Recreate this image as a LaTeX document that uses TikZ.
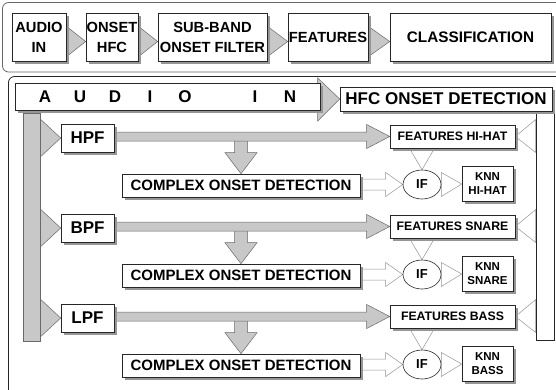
\documentclass[tikz,border=0pt]{standalone}
\usepackage{fontspec}
\setmainfont{Liberation Sans}
\usetikzlibrary{shadows,calc,shapes.geometric,backgrounds}
\definecolor{agray}{RGB}{200,200,200}
\definecolor{aline}{RGB}{105,105,105}
\definecolor{hline}{RGB}{150,150,150}
\definecolor{shad}{RGB}{150,150,150}
\pgfdeclarelayer{bg}
\pgfdeclarelayer{back}
\pgfsetlayers{bg,back,main}
\begin{document}
\begin{tikzpicture}[x=1pt,y=-1pt,
  bx/.style={draw=black!85, fill=white, line width=0.6pt, inner sep=0pt, align=center,
    drop shadow={shadow xshift=2.5pt, shadow yshift=-2.5pt, fill=shad, opacity=1}},
  garrow/.style={fill=agray, draw=aline, line width=0.5pt},
  harrow/.style={fill=white, draw=hline, line width=0.5pt},
  topf/.style={font=\bfseries\fontsize{14.7}{20}\selectfont},
  bigf/.style={font=\bfseries\fontsize{17}{18}\selectfont},
  cxf/.style={font=\bfseries\fontsize{15}{17}\selectfont},
  featf/.style={font=\bfseries\fontsize{12.3}{14}\selectfont},
  knnf/.style={font=\bfseries\fontsize{11.5}{14}\selectfont},
  iff/.style={font=\bfseries\fontsize{13}{14}\selectfont},
]
\useasboundingbox (0,0) rectangle (556,389);
\begin{pgfonlayer}{bg}
  \fill[white] (0,0) rectangle (556,389);
  \draw[draw=black!60, line width=0.8pt, rounded corners=6pt] (2.5,2.5) rectangle (565,72);
  \draw[draw=black!85, line width=0.8pt, rounded corners=6pt] (8.5,76.5) rectangle (565,400);
\end{pgfonlayer}

% top row
\node[bx, topf, minimum width=54, minimum height=48] (t1) at (39,37) {AUDIO\\IN};
\node[bx, topf, minimum width=52, minimum height=48] (t2) at (112,37) {ONSET\\HFC};
\node[bx, topf, minimum width=109, minimum height=48] (t3) at (212.5,37) {SUB-BAND\\ONSET FILTER};
\node[bx, topf, minimum width=80, minimum height=48] (t4) at (328,37) {FEATURES};
\node[bx, font=\bfseries\fontsize{15.3}{20}\selectfont, minimum width=161, minimum height=48] (t5) at (470.5,37) {CLASSIFICATION};
\begin{pgfonlayer}{back}
\foreach \a/\b in {t1/t2, t2/t3, t3/t4, t4/t5} {
  \draw[garrow] ($(\a.east)+(1,-10)$) -- ($(\b.west)+(0,4.5)$) -- ($(\a.east)+(1,19)$) -- cycle;
}
\end{pgfonlayer}

% lower section
\node[garrow, minimum width=17, minimum height=228, inner sep=0pt] (lbar) at (31.5,227) {};
\node[draw=black!85, fill=white, line width=0.6pt, minimum width=18, minimum height=229, inner sep=0pt] (rbar) at (545,225.5) {};
\node[bx, bigf, minimum width=305, minimum height=27] (ban) at (167.5,96.5)
  {\makebox[35pt]{A}\makebox[35pt]{U}\makebox[35pt]{D}\makebox[35pt]{I}\makebox[35pt]{O}\makebox[35pt]{}\makebox[35pt]{I}\makebox[35pt]{N}};
\node[bx, bigf, minimum width=212, minimum height=24] (hfc) at (446,99) {HFC ONSET DETECTION};
\begin{pgfonlayer}{back}
  \draw[garrow] ($(hfc.west)+(-22,-21)$) -- (hfc.west) -- ($(hfc.west)+(-22,22)$) -- cycle;
\end{pgfonlayer}

\foreach \r/\fl/\fe/\kn [count=\i] in {138/HPF/HI-HAT/HI-HAT, 228/BPF/SNARE/SNARE, 318/LPF/BASS/BASS} {
  \node[bx, bigf, minimum width=53, minimum height=28] (flt\i) at (87.5,\r) {\fl};
  \node[bx, featf, minimum width=125, minimum height=23] (fe\i) at (452.5,\r-1.5) {FEATURES \fe};
  \node[bx, cxf, minimum width=238, minimum height=23] (cx\i) at (241,\r+47.5) {COMPLEX ONSET DETECTION};
  \node[draw=black!85, fill=white, line width=0.6pt, ellipse, minimum width=38, minimum height=29, inner sep=0pt, iff] (if\i) at (422,\r+46.5) {IF};
  \node[bx, knnf, minimum width=51, minimum height=35] (knn\i) at (487.5,\r+46) {KNN\\\kn};
  \begin{pgfonlayer}{back}
    \draw[garrow] ($(lbar.east |- flt\i.west)+(0,-19)$) -- (flt\i.west) -- ($(lbar.east |- flt\i.west)+(0,19)$) -- cycle;
    \draw[garrow] let \p1=(cx\i.north), \p2=(fe\i.west) in
      (\x1-6.5pt,\y2) -- (\x1+6.5pt,\y2) -- (\x1+6.5pt,\y1+21pt) -- (\x1+16pt,\y1+21pt) -- (\p1)
      -- (\x1-16pt,\y1+21pt) -- (\x1-6.5pt,\y1+21pt) -- cycle;
    \draw[garrow] let \p1=(flt\i.east), \p2=(fe\i.west) in
      (\x1,\y2+4.5pt) -- (\x2-23pt,\y2+4.5pt) -- (\x2-23pt,\y2+12pt) -- (\p2)
      -- (\x2-23pt,\y2-12pt) -- (\x2-23pt,\y2-4.5pt) -- (\x1,\y2-4.5pt) -- cycle;
    \draw[harrow] let \p1=(cx\i.east), \p2=(if\i.west) in
      (\x1,\y2+5.5pt) -- (\x2-17pt,\y2+5.5pt) -- (\x2-17pt,\y2+12pt) -- (\p2)
      -- (\x2-17pt,\y2-12pt) -- (\x2-17pt,\y2-5.5pt) -- (\x1,\y2-5.5pt) -- cycle;
    \draw[harrow] ($(if\i.east)+(0,-12)$) -- (knn\i.west) -- ($(if\i.east)+(0,12)$) -- cycle;
    \draw[harrow] ($(if\i.north |- fe\i.south)+(-12.5,0)$) -- (if\i.north) -- ($(if\i.north |- fe\i.south)+(12.5,0)$) -- cycle;
    \draw[harrow] ($(rbar.west |- fe\i.east)+(0,-17)$) -- (fe\i.east) -- ($(rbar.west |- fe\i.east)+(0,16)$) -- cycle;
  \end{pgfonlayer}
}
\end{tikzpicture}
\end{document}
